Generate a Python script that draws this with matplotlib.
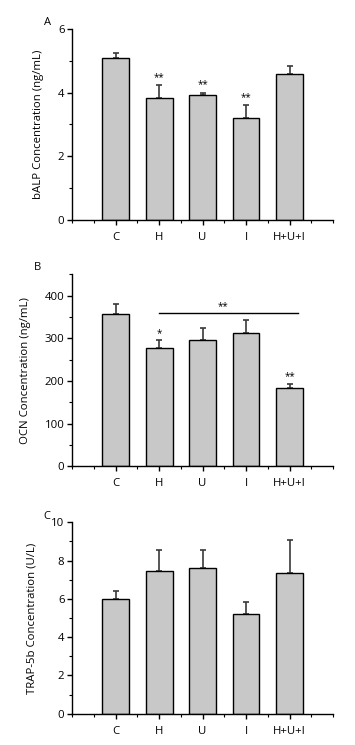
import matplotlib.pyplot as plt
import numpy as np
from matplotlib.ticker import MultipleLocator

plt.rcParams['font.family'] = ['Open Sans', 'DejaVu Sans']

groups = ['C', 'H', 'U', 'I', 'H+U+I']

balp_mean = [5.08, 3.83, 3.92, 3.19, 4.58]
balp_err = [0.18, 0.40, 0.08, 0.41, 0.25]
balp_stars = ['', '**', '**', '**', '']

ocn_mean = [357, 276, 297, 312, 184]
ocn_err = [23, 19, 26, 30, 9]
ocn_stars = ['', '*', '', '', '**']

trap_mean = [6.01, 7.46, 7.62, 5.21, 7.34]
trap_err = [0.38, 1.11, 0.95, 0.61, 1.71]


def bar_panel(ax, means, errs, ylabel, ymax, ystep, letter, letter_xy):
    x = np.arange(1, len(groups) + 1)
    ax.bar(x, means, width=0.62, color='#c8c8c8', edgecolor='black', linewidth=1.0, zorder=2)
    ax.errorbar(x, means, yerr=[np.zeros(len(errs)), errs], fmt='none', ecolor='#3a3a3a',
                elinewidth=1.2, capsize=2.2, capthick=1.2, zorder=1)
    ax.set_xlim(0, 6)
    ax.set_ylim(0, ymax)
    ax.set_xticks(x)
    ax.set_xticklabels(groups)
    ax.xaxis.set_minor_locator(MultipleLocator(0.5))
    ax.yaxis.set_major_locator(MultipleLocator(ystep))
    ax.yaxis.set_minor_locator(MultipleLocator(ystep / 2))
    ax.spines['top'].set_visible(False)
    ax.spines['right'].set_visible(False)
    ax.spines['left'].set_linewidth(1.0)
    ax.spines['bottom'].set_linewidth(1.0)
    ax.tick_params(which='major', direction='out', length=3.5, width=1.0, labelsize=8.2, pad=2)
    ax.tick_params(which='minor', direction='out', length=2, width=0.8)
    ax.tick_params(axis='x', which='major', pad=5)
    ax.set_ylabel(ylabel, fontsize=8.2, labelpad=10)
    fig.text(letter_xy[0], letter_xy[1], letter, fontsize=8, ha='center', va='center')
    return x


fig = plt.figure(figsize=(3.55, 7.45), dpi=100)

axA = fig.add_axes([0.203, 0.705, 0.735, 0.256])
x = bar_panel(axA, balp_mean, balp_err, 'bALP Concentration (ng/mL)', 6, 2, 'A', (0.135, 0.970))
for xi, m, e, s in zip(x, balp_mean, balp_err, balp_stars):
    if s:
        axA.text(xi, m + e + 0.08, s, ha='center', va='bottom', fontsize=7)

axB = fig.add_axes([0.203, 0.374, 0.735, 0.258])
x = bar_panel(axB, ocn_mean, ocn_err, 'OCN Concentration (ng/mL)', 450, 100, 'B', (0.107, 0.641))
for xi, m, e, s in zip(x, ocn_mean, ocn_err, ocn_stars):
    if s:
        axB.text(xi, m + e + 4, s, ha='center', va='bottom', fontsize=7)
axB.plot([2, 5.2], [359, 359], color='black', linewidth=1.0)
axB.text(3.48, 362, '**', ha='center', va='bottom', fontsize=7)

axC = fig.add_axes([0.203, 0.042, 0.735, 0.257])
bar_panel(axC, trap_mean, trap_err, 'TRAP-5b Concentration (U/L)', 10, 2, 'C', (0.132, 0.307))

fig.savefig('out.png', dpi=100)
